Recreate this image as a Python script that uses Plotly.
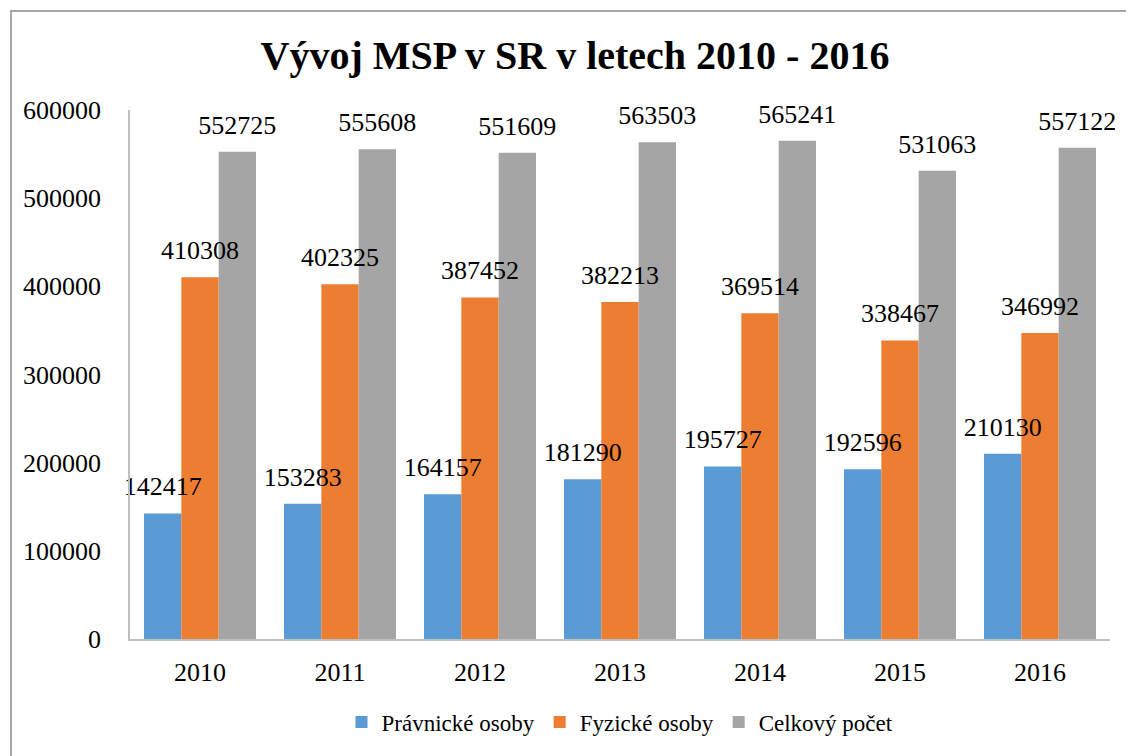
import plotly.graph_objects as go

years = ["2010", "2011", "2012", "2013", "2014", "2015", "2016"]
pravnicke = [142417, 153283, 164157, 181290, 195727, 192596, 210130]
fyzicke = [410308, 402325, 387452, 382213, 369514, 338467, 346992]
celkovy = [552725, 555608, 551609, 563503, 565241, 531063, 557122]

series = [
    ("Právnické osoby", pravnicke, "#5B9BD5"),
    ("Fyzické osoby", fyzicke, "#ED7D31"),
    ("Celkový počet", celkovy, "#A5A5A5"),
]

serif = "Liberation Serif"

fig = go.Figure()
for i, (name, vals, color) in enumerate(series):
    fig.add_trace(
        go.Bar(
            x=years,
            y=vals,
            name=name,
            offsetgroup=str(i),
            marker={"color": color, "line": {"width": 0}},
        )
    )

# value labels as text-only scatter so they sit on top of all bars
for i, (name, vals, color) in enumerate(series):
    fig.add_trace(
        go.Scatter(
            x=years,
            y=vals,
            mode="markers+text",
            offsetgroup=str(i),
            marker={"size": 17, "color": "rgba(0,0,0,0)"},
            text=[str(v) for v in vals],
            textposition="top center",
            textfont={"family": serif, "size": 26, "color": "#000000"},
            cliponaxis=False,
            showlegend=False,
            hoverinfo="skip",
        )
    )

fig.update_layout(
    width=1134,
    height=756,
    barmode="group",
    bargap=0.2,
    bargroupgap=0,
    scattermode="group",
    scattergap=0.2,
    plot_bgcolor="white",
    paper_bgcolor="white",
    margin={"l": 122, "r": 32, "t": 102, "b": 125},
    title={
        "text": "<b>Vývoj MSP v SR v letech 2010 - 2016</b>",
        "x": 0.5,
        "xanchor": "center",
        "y": 0.938,
        "yanchor": "middle",
        "font": {"family": serif, "size": 40, "color": "#000000"},
    },
    legend={
        "orientation": "h",
        "x": 0.5,
        "xanchor": "center",
        "y": -0.157,
        "yanchor": "middle",
        "font": {"family": serif, "size": 23, "color": "#000000"},
        "itemwidth": 30,
    },
    font={"family": serif, "color": "#000000"},
)

fig.update_xaxes(
    showline=True,
    linecolor="#BFBFBF",
    linewidth=1.5,
    ticks="",
    tickfont={"family": serif, "size": 26},
    ticklabelstandoff=9,
    automargin=False,
)
fig.update_yaxes(
    range=[0, 600000],
    dtick=100000,
    tickformat="d",
    showgrid=False,
    zeroline=False,
    showline=True,
    linecolor="#BFBFBF",
    linewidth=1.5,
    ticks="",
    tickfont={"family": serif, "size": 26},
    ticklabelstandoff=22,
    automargin=False,
)

# chart frame (cut off at right and bottom like in the source image)
fig.add_shape(
    type="rect",
    xref="paper",
    yref="paper",
    x0=-0.1214,
    x1=1.05,
    y0=-0.3,
    y1=1.1871,
    line={"color": "#A6A6A6", "width": 2},
    fillcolor="rgba(0,0,0,0)",
    layer="below",
)

fig.write_html("out.html")
